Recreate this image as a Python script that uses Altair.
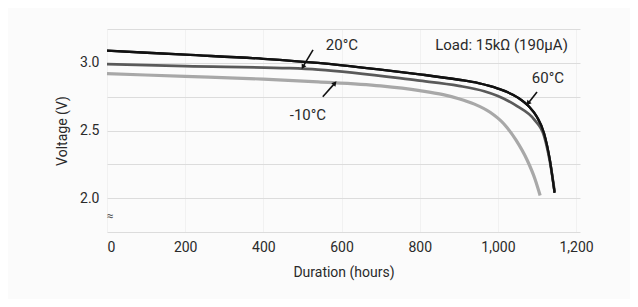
import altair as alt
import pandas as pd

# ---- data ----
hours_20 = [0, 200, 400, 540, 700, 800, 900, 950, 1000, 1050, 1080, 1100, 1118, 1133, 1145]
volts_20 = [3.09, 3.06, 3.03, 3.00, 2.95, 2.915, 2.875, 2.85, 2.81, 2.745, 2.675, 2.60, 2.48, 2.28, 2.04]

hours_60 = [0, 200, 467, 540, 794, 900, 965, 1000, 1049, 1093, 1118, 1133, 1145]
volts_60 = [2.99, 2.975, 2.96, 2.95, 2.87, 2.83, 2.79, 2.755, 2.68, 2.58, 2.46, 2.27, 2.05]

hours_m10 = [0, 200, 400, 540, 700, 800, 860, 900, 940, 980, 1015, 1046, 1075, 1095, 1108]
volts_m10 = [2.92, 2.90, 2.88, 2.86, 2.83, 2.795, 2.765, 2.735, 2.695, 2.635, 2.55, 2.43, 2.28, 2.14, 2.02]

series_names = ["20°C", "60°C", "-10°C"]

x_ticks = [0, 200, 400, 600, 800, 1000, 1200]
y_grid = [1.75, 2.0, 2.25, 2.5, 2.75, 3.0, 3.25]

label_text = ["20°C", "-10°C", "60°C"]
label_x = [601, 514, 1128]
label_y = [3.13, 2.615, 2.89]

arrow_x1 = [527, 552, 1100]
arrow_y1 = [3.096, 2.75, 2.785]
arrow_x2 = [501, 583, 1077]
arrow_y2 = [2.97, 2.85, 2.70]
arrow_angle = [210, 41, 219]

load_text = "Load: 15kΩ (190μA)"
load_x, load_y = 1179, 3.13

# ---- build tables ----
rows = []
for name, hs, vs in [("20°C", hours_20, volts_20), ("60°C", hours_60, volts_60), ("-10°C", hours_m10, volts_m10)]:
    for i, (h, v) in enumerate(zip(hs, vs)):
        rows.append({"series": name, "hours": h, "volts": v, "order": i})
df = pd.DataFrame(rows)

labels = pd.DataFrame({"text": label_text, "x": label_x, "y": label_y})
arrows = pd.DataFrame({"x1": arrow_x1, "y1": arrow_y1, "x2": arrow_x2, "y2": arrow_y2, "angle": arrow_angle})

FONT = "Roboto"
TXT = "#2a2a2a"

xscale = alt.Scale(domain=[0, 1210], nice=False, zero=False)
yscale = alt.Scale(domain=[1.75, 3.25], nice=False, zero=False)

xaxis = alt.Axis(values=x_ticks, title="Duration (hours)", grid=True,
                 gridColor="#f1f1f1", domain=False, ticks=False,
                 labelPadding=8, titlePadding=11, format=",.0f")
yaxis = alt.Axis(values=y_grid, title="Voltage (V)", grid=True,
                 gridColor="#dcdcdc", domain=False, ticks=False,
                 labelPadding=8, titlePadding=10, labelOverlap=False,
                 labelExpr="abs(datum.value * 2 - round(datum.value * 2)) < 0.01 ? format(datum.value, '.1f') : ''")

def X(field):
    return alt.X(field, type="quantitative", scale=xscale, axis=xaxis)

def Y(field):
    return alt.Y(field, type="quantitative", scale=yscale, axis=yaxis)

lines = alt.Chart(df).mark_line(interpolate="monotone").encode(
    x=X("hours"), y=Y("volts"),
    color=alt.Color("series:N", scale=alt.Scale(domain=series_names, range=["#111111", "#5a5a5a", "#a8a8a8"]), legend=None),
    strokeWidth=alt.StrokeWidth("series:N", scale=alt.Scale(domain=series_names, range=[2.3, 3.2, 2.0]), legend=None),
    order="order:Q",
    detail="series:N",
)

# redraw 20°C on top
top_line = alt.Chart(df[df.series == "20°C"]).mark_line(interpolate="monotone", color="#111111", strokeWidth=2.3).encode(
    x=X("hours"), y=Y("volts"), order="order:Q")

text_labels = alt.Chart(labels).mark_text(font=FONT, fontSize=15, color=TXT).encode(
    x=X("x"), y=Y("y"), text="text:N")

arrow_lines = alt.Chart(arrows).mark_rule(color="#111111", strokeWidth=1.6).encode(
    x=X("x1"), y=Y("y1"), x2="x2:Q", y2="y2:Q")

arrow_heads = alt.Chart(arrows).mark_point(shape="triangle-up", filled=True, color="#111111", size=30, opacity=1).encode(
    x=X("x2"), y=Y("y2"), angle=alt.Angle("angle:Q", scale=None))

load = alt.Chart(pd.DataFrame({"x": [load_x], "y": [load_y], "t": [load_text]})).mark_text(
    font=FONT, fontSize=15, color=TXT, align="right").encode(
    x=X("x"), y=Y("y"), text="t:N")

brk = alt.Chart(pd.DataFrame({"x": [8], "y": [1.87], "t": ["≈"]})).mark_text(
    font=FONT, fontSize=12, color="#555555").encode(
    x=X("x"), y=Y("y"), text="t:N")

chart = alt.layer(lines, top_line, arrow_lines, arrow_heads, text_labels, load, brk).properties(
    width=473, height=203,
    autosize=alt.AutoSizeParams(type="none"),
    padding={"left": 99, "top": 21, "right": 50, "bottom": 67},
    background="#fbfbfb",
).configure_view(stroke=None).configure_axis(
    labelFont=FONT, titleFont=FONT, labelFontSize=14, titleFontSize=14,
    labelColor=TXT, titleColor=TXT, titleFontWeight="normal",
)

chart.save("out.html", embed_options={"renderer": "svg", "actions": False})
